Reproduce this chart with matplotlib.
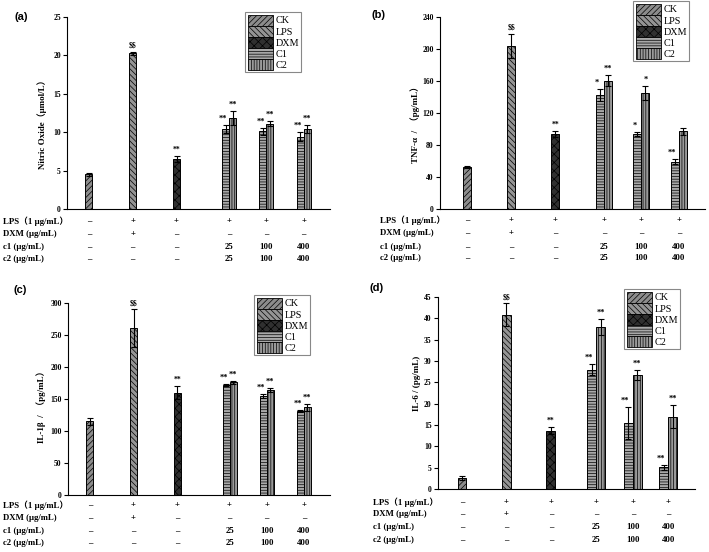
import matplotlib
matplotlib.use("Agg")
import matplotlib.pyplot as plt
from matplotlib.patches import Patch

plt.rcParams["font.family"] = ["Liberation Serif", "Noto Sans CJK SC"]
plt.rcParams["font.weight"] = "bold"
plt.rcParams["hatch.linewidth"] = 0.5

# ---- data ----
series = ["CK", "LPS", "DXM", "C1", "C2"]

no_base = [4.5, 20.3, 6.5]
no_base_err = [0.15, 0.2, 0.4]
no_c1 = [10.4, 10.1, 9.4]
no_c1_err = [0.5, 0.4, 0.6]
no_c2 = [11.9, 11.1, 10.4]
no_c2_err = [0.9, 0.3, 0.5]

tnf_base = [52.5, 204, 93.5]
tnf_base_err = [1, 15, 4]
tnf_c1 = [142.5, 93.7, 59]
tnf_c1_err = [7, 2, 3]
tnf_c2 = [160.5, 145, 97]
tnf_c2_err = [7, 9, 4.5]

il1_base = [115, 261, 160]
il1_base_err = [5, 29, 10]
il1_c1 = [172, 155, 131]
il1_c1_err = [1.5, 3, 2]
il1_c2 = [176, 164, 137]
il1_c2_err = [2, 3, 5]

il6_base = [2.5, 40.8, 13.7]
il6_base_err = [0.5, 2.7, 0.8]
il6_c1 = [28.0, 15.5, 5.1]
il6_c1_err = [1.3, 3.8, 0.6]
il6_c2 = [38.0, 26.7, 16.9]
il6_c2_err = [1.8, 1.2, 2.7]

sig_all = (["", r"\$\$", "**"], ["**", "**", "**"], ["**", "**", "**"])
sig_tnf = (["", r"\$\$", "**"], ["*", "*", "**"], ["**", "*", ""])

row_labels = ["LPS（1 μg/mL）", "DXM (μg/mL)", "c1 (μg/mL)", "c2 (μg/mL)"]
row_lps = ["–", "+", "+", "+", "+", "+"]
row_dxm = ["–", "+", "–", "–", "–", "–"]
row_c1 = ["–", "–", "–", "25", "100", "400"]
row_c2 = ["–", "–", "–", "25", "100", "400"]

# ---- styles ----
W, H = 709, 552
styles = {
    "CK": dict(facecolor="#8c8c8c", hatch="//////"),
    "LPS": dict(facecolor="#949494", hatch="\\\\\\\\\\\\"),
    "DXM": dict(facecolor="#303030", hatch="xxxx"),
    "C1": dict(facecolor="#a8a8a8", hatch="------"),
    "C2": dict(facecolor="#9a9a9a", hatch="||||||"),
}

panels = [
    dict(tag="(a)", rect=(67, 17, 330, 209), xlim=(-0.5, 5.5),
         pos=[0, 1, 2, 3.2, 4.05, 4.9], w=0.16, ylim=25, step=5,
         data=(no_base, no_base_err, no_c1, no_c1_err, no_c2, no_c2_err), sig=sig_all,
         ylabel="Nitric Oxide（μmol/L）", ylab_xy=(42, 122), tag_xy=(15, 17),
         leg=(245, 12), rowlab_x=3, rows_off=[12, 25, 38, 50]),
    dict(tag="(b)", rect=(440, 17, 705, 209), xlim=(-0.61, 5.39),
         pos=[0, 1, 2, 3.1, 3.95, 4.8], w=0.18, ylim=240, step=40,
         data=(tnf_base, tnf_base_err, tnf_c1, tnf_c1_err, tnf_c2, tnf_c2_err), sig=sig_tnf,
         ylabel="TNF-α  /  （pg/mL）", ylab_xy=(415, 122), tag_xy=(372, 15),
         leg=(633, 1), rowlab_x=380, rows_off=[11, 24, 38, 49]),
    dict(tag="(c)", rect=(68, 303, 330, 495), xlim=(-0.5, 5.5),
         pos=[0, 1, 2, 3.2, 4.05, 4.9], w=0.16, ylim=300, step=50,
         data=(il1_base, il1_base_err, il1_c1, il1_c1_err, il1_c2, il1_c2_err), sig=sig_all,
         ylabel="IL-1β  /  （pg/mL）", ylab_xy=(41, 405), tag_xy=(14, 290),
         leg=(254, 295), rowlab_x=3, rows_off=[10, 23, 36, 48]),
    dict(tag="(d)", rect=(438, 297, 695, 489), xlim=(-0.54, 5.24),
         pos=[0, 1, 2, 3.02, 3.84, 4.64], w=0.2, ylim=45, step=5,
         data=(il6_base, il6_base_err, il6_c1, il6_c1_err, il6_c2, il6_c2_err), sig=sig_all,
         ylabel="IL-6 / (pg/mL)", ylab_xy=(417, 383), tag_xy=(369, 288),
         leg=(624, 289), rowlab_x=373, rows_off=[13, 25, 38, 51]),
]

fig = plt.figure(figsize=(W / 100, H / 100), dpi=100)

for p in panels:
    x0, y0, x1, y1 = p["rect"]
    ax = fig.add_axes([x0 / W, 1 - y1 / H, (x1 - x0) / W, (y1 - y0) / H])
    base, base_err, c1, c1_err, c2, c2_err = p["data"]
    pos, w = p["pos"], p["w"]
    ymax = p["ylim"]
    gap = ymax * 0.012

    # single bars: CK, LPS, DXM
    for i, name in enumerate(series[:3]):
        ax.bar(pos[i], base[i], w, edgecolor="black", linewidth=0.7, **styles[name])
        ax.errorbar(pos[i], base[i], yerr=base_err[i], fmt="none", ecolor="black",
                    elinewidth=0.8, capsize=2, capthick=0.8)
        if p["sig"][0][i]:
            ax.text(pos[i], base[i] + base_err[i] + gap, p["sig"][0][i], ha="center",
                    va="bottom", fontsize=5.5)

    # grouped bars: C1, C2
    for k, (vals, errs, name, sg, shift) in enumerate(
            [(c1, c1_err, "C1", p["sig"][1], -w / 2), (c2, c2_err, "C2", p["sig"][2], w / 2)]):
        for j in range(3):
            xx = pos[3 + j] + shift
            ax.bar(xx, vals[j], w, edgecolor="black", linewidth=0.7, **styles[name])
            ax.errorbar(xx, vals[j], yerr=errs[j], fmt="none", ecolor="black",
                        elinewidth=0.8, capsize=2, capthick=0.8)
            if sg[j]:
                tx = xx - (w * 0.35 if k == 0 else 0)
                ax.text(tx, vals[j] + errs[j] + gap, sg[j], ha="center", va="bottom",
                        fontsize=6)

    ax.set_xlim(*p["xlim"])
    ax.set_ylim(0, ymax)
    ax.set_yticks(range(0, ymax + 1, p["step"]))
    ax.set_xticks([])
    ax.tick_params(axis="y", direction="out", length=3, width=0.8, labelsize=5.5, pad=1.5)
    for lab in ax.get_yticklabels():
        lab.set_fontweight("bold")
    for s in ["top", "right"]:
        ax.spines[s].set_visible(False)
    for s in ["left", "bottom"]:
        ax.spines[s].set_linewidth(0.8)

    # legend
    handles = [Patch(edgecolor="black", linewidth=0.6, label=n, **styles[n]) for n in series]
    leg = ax.legend(handles=handles, loc="upper left",
                    bbox_to_anchor=(p["leg"][0] / W, 1 - p["leg"][1] / H),
                    bbox_transform=fig.transFigure, handlelength=2.5,
                    handleheight=1.3, labelspacing=0.0, handletextpad=0.25,
                    borderpad=0.25, borderaxespad=0, fancybox=False, framealpha=1,
                    edgecolor="#888888", prop=dict(weight="normal", size=7.3))
    leg.get_frame().set_linewidth(0.8)

    # y label and panel tag
    fig.text(p["ylab_xy"][0] / W, 1 - p["ylab_xy"][1] / H, p["ylabel"], rotation=90,
             ha="center", va="center", fontsize=6.5, fontweight="bold")
    fig.text(p["tag_xy"][0] / W, 1 - p["tag_xy"][1] / H, p["tag"], ha="left", va="center",
             fontsize=8, fontweight="bold", family="Liberation Sans")

    # treatment table under the axis
    for r, (lab, row) in enumerate(zip(row_labels, [row_lps, row_dxm, row_c1, row_c2])):
        yy = 1 - (y1 + p["rows_off"][r]) / H
        fig.text(p["rowlab_x"] / W, yy, lab, ha="left", va="center", fontsize=6.3,
                 fontweight="bold")
        for c, val in enumerate(row):
            ax.annotate(val, xy=(pos[c], 0), xycoords=("data", "axes fraction"),
                        xytext=(0, -p["rows_off"][r] * 0.72), textcoords="offset points",
                        ha="center", va="center", fontsize=6.3, fontweight="bold",
                        annotation_clip=False)

fig.savefig("out.png", dpi=100)
